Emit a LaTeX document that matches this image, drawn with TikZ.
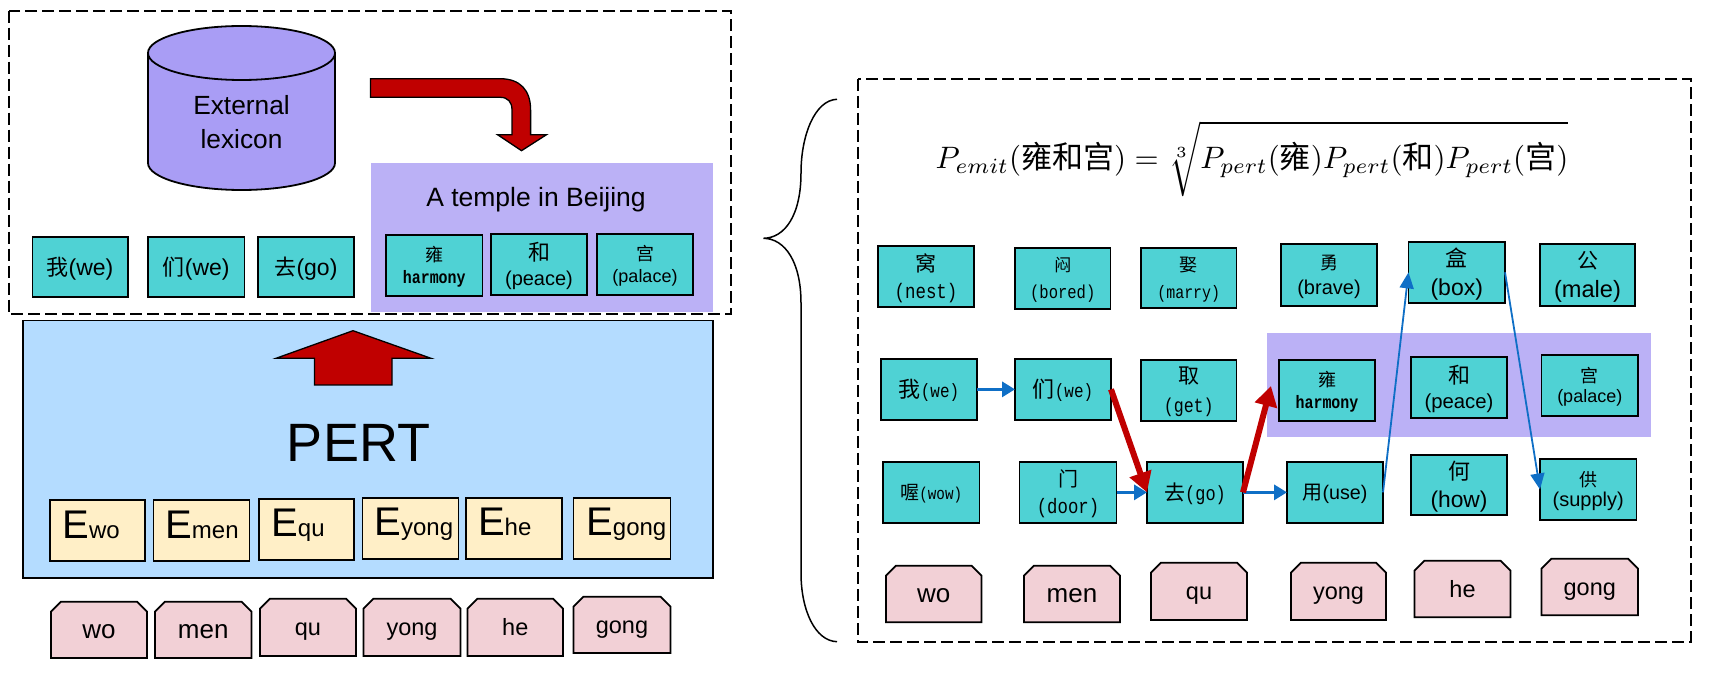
\documentclass[tikz,border=0pt]{standalone}
\usepackage{fontspec}
\setmainfont{Liberation Sans}
\newfontfamily\cjk{Noto Sans CJK SC}
\newfontfamily\mono[Scale=1.2,FakeStretch=0.83]{Liberation Mono}
\usetikzlibrary{arrows.meta,shapes.misc}
\definecolor{teal1}{HTML}{4FD2D4}
\definecolor{lilac}{HTML}{BBB1F6}
\definecolor{cyl}{HTML}{A99DF5}
\definecolor{pertblue}{HTML}{B4DCFF}
\definecolor{cream}{HTML}{FFEFC7}
\definecolor{rosy}{HTML}{F2D0D6}
\definecolor{darkred}{HTML}{C00000}
\definecolor{arrowblue}{HTML}{0F6FC6}
\newcommand\fs[1]{\fontsize{#1}{#1}\selectfont}
\newcommand\cj[2]{{\fs{#1}\cjk #2}}
\newcommand\ar[2]{{\fs{#1}#2}}
\newcommand\mn[2]{{\fs{#1}\mono #2}}
\newcommand\hm{{\fs{15}\mono\bfseries harmony}}
\tikzset{
  tbox/.style={draw=black,line width=1.8pt,fill=teal1,inner sep=0pt,outer sep=0pt,font=\fs{20}},
  ebox/.style={draw=black,line width=1.8pt,fill=cream,inner sep=0pt,outer sep=0pt,text height=29pt,text depth=14pt},
  pbox/.style={draw=black,line width=1.8pt,fill=rosy,inner sep=0pt,outer sep=0pt,chamfered rectangle,
    chamfered rectangle corners={north west,north east},chamfered rectangle xsep=4pt,chamfered rectangle ysep=6pt,
    text height=17pt,text depth=0pt},
  dashbox/.style={draw=black,line width=2pt,dash pattern=on 12pt off 5pt},
  bigarrow/.style={draw=black,line width=1.3pt,fill=darkred},
  bluearrow/.style={arrowblue,line width=3.3pt,-{Triangle[length=13pt,width=15pt]}},
  thinblue/.style={arrowblue,line width=1.8pt,-{Triangle[length=16pt,width=14pt]}},
  redarrow/.style={darkred,line width=6pt,-{Triangle[length=20pt,width=22pt]}},
}
% name x1 y1 x2 y2 text
\newcommand\tb[6]{\node[tbox,minimum width={#4-#2},minimum height={#5-#3}] (#1) at ({(#2+#4)/2},{(#3+#5)/2}) {\raisebox{-7.5pt}[0pt][0pt]{\begin{tabular}{@{}c@{}}#6\end{tabular}}};}
\newcommand\eb[7]{\node[ebox,minimum width={#4-#2},minimum height={#5-#3}] (#1) at ({(#2+#4)/2},{(#3+#5)/2}) {\kern#7pt\fs{40}E\fs{24}#6};}
\newcommand\pb[7]{\node[pbox,minimum width={#4-#2},minimum height={#5-#3}] (#1) at ({(#2+#4)/2},{(#3+#5)/2}) {\fs{#7}#6};}
\begin{document}
\begin{tikzpicture}[x=1pt,y=-1pt]
\useasboundingbox[fill=white] (0,0) rectangle (1714,684);

%% left panel
\draw[dashbox] (8.6,10.7) rectangle (731,314);
\fill[lilac] (371,163) rectangle (712.7,312);
\draw[line width=1.8pt,fill=cyl] (148,53) -- (148,163) arc[start angle=180,end angle=360,x radius=93.5,y radius=-27] -- (335,53);
\draw[line width=1.8pt,fill=cyl] (241.5,53) ellipse[x radius=93.5,y radius=27];
\node[align=center,font=\fs{26.3},inner sep=0pt] (lexicon) at (241.5,122) {External\\[7pt]lexicon};
\draw[bigarrow] (370.5,78.7) -- (500,78.7) .. controls (520,78.7) and (530.6,90) .. (530.6,110) -- (530.6,134.7) -- (546.5,134.7) -- (521.5,150.7) -- (497.5,134.7) -- (512,134.7) -- (512,110) .. controls (512,102) and (508,97.3) .. (500,97.3) -- (370.5,97.3) -- cycle;
\node[font=\fs{26.5},inner sep=0pt] (temple) at (536,200) {A temple in Beijing};

\tb{la}{32.5}{236.7}{127.6}{297}{\cj{22}{我}\ar{23}{(we)}}
\tb{lb}{148}{236.7}{244.5}{297}{\cj{22}{们}\ar{23}{(we)}}
\tb{lc}{258}{236.7}{354}{297}{\cj{22}{去}\ar{23}{(go)}}
\tb{ld}{386}{234.7}{482.5}{295.7}{\cj{18}{雍}\\[2pt]\hm}
\tb{le}{491}{234}{587}{295}{\cj{22}{和}\\[5pt]\ar{20}{(peace)}}
\tb{lf}{597}{234}{693}{295}{\cj{18}{宫}\\[2pt]\ar{18}{(palace)}}

\node[draw=black,line width=1.8pt,fill=pertblue,inner sep=0pt,outer sep=0pt,minimum width=689.7pt,minimum height=257.2pt] (pert) at (367.85,449.1) {};
\draw[bigarrow] (353,330.7) -- (431,358.3) -- (392,358.3) -- (392,385) -- (314.5,385) -- (314.5,358.3) -- (276,358.3) -- cycle;
\node[font=\fs{54},inner sep=0pt] (pertlabel) at (358.5,443) {PERT};

\eb{ea}{50}{500}{145}{561}{wo}{-13}
\eb{eb}{153.5}{500}{249.5}{561}{men}{1}
\eb{ec}{259}{498.7}{354}{560}{qu}{-17}
\eb{ed}{362.5}{497.7}{458.5}{559}{yong}{6.6}
\eb{ee}{466}{497.7}{562}{559}{he}{-18.6}
\eb{ef}{573.5}{497.7}{670.5}{559}{gong}{8.6}

\pb{pa}{51}{601.7}{147}{658}{wo}{26}
\pb{pb}{155}{601.7}{251.5}{658}{men}{26}
\pb{pc}{260}{598.7}{356}{656}{qu}{23.5}
\pb{pd}{363.5}{598.7}{460.5}{656}{yong}{23.5}
\pb{pe}{467.5}{598.7}{563}{656}{he}{23.5}
\pb{pf}{573.5}{596.7}{670.5}{653}{gong}{23.5}

%% brace
\draw[line width=1.5pt] (837,99.3) .. controls (815,100) and (801,135) .. (801,173) .. controls (801,215) and (785,238) .. (763.5,238.3) .. controls (785,238.6) and (801,262) .. (801,303) -- (801,573) .. controls (801,610) and (815,641) .. (837,641.7);

%% right panel
\draw[dashbox] (858,79) rectangle (1690.6,641.7);
\fill[lilac] (1267,333.3) rectangle (1651,436.7);
\node[scale=3.1,inner sep=0pt] (formula) at (1252,159) {$P_{emit}(\mbox{\cjk 雍和宫})=\sqrt[3]{\vphantom{\Big|}P_{pert}(\mbox{\cjk 雍})P_{pert}(\mbox{\cjk 和})P_{pert}(\mbox{\cjk 宫})}$};

\tb{ra}{878}{245.7}{974}{307.3}{\cj{21}{窝}\\[6pt]\mn{17.5}{(nest)}}
\tb{rb}{1015}{247.7}{1110.5}{309.3}{\cj{17}{闷}\\[7pt]\mn{15.6}{(bored)}}
\tb{rc}{1141}{247.7}{1236.5}{308.3}{\cj{18}{娶}\\[7pt]\mn{15}{(marry)}}
\tb{rd}{1281}{244.3}{1377}{306.3}{\cj{18}{勇}\\[4pt]\ar{20}{(brave)}}
\tb{re}{1408.5}{241.7}{1505}{303}{\cj{22}{盒}\\[6pt]\ar{23}{(box)}}
\tb{rf}{1540}{244.3}{1635}{306.3}{\cj{21}{公}\\[6pt]\ar{23.6}{(male)}}

\tb{sa}{881}{358.7}{977}{420}{\cj{22}{我}\mn{16}{(we)}}
\tb{sb}{1015}{358.7}{1111}{420}{\cj{22}{们}\mn{16}{(we)}}
\tb{sc}{1141}{359.7}{1236.5}{421}{\cj{21}{取}\\[8pt]\mn{16.7}{(get)}}
\tb{sd}{1279}{359.7}{1375}{421}{\cj{18}{雍}\\[2pt]\hm}
\tb{se}{1411}{356.7}{1507}{418.3}{\cj{22}{和}\\[4pt]\ar{20.3}{(peace)}}
\tb{sf}{1541.5}{354.7}{1638}{416}{\cj{18}{宫}\\[0pt]\ar{18}{(palace)}}

\tb{ta}{883}{461.7}{979.5}{523}{\cj{19}{喔}\mn{14.3}{(wow)}}
\tb{tb}{1019.5}{461.7}{1116.5}{523}{\cj{20}{门}\\[6pt]\mn{17.4}{(door)}}
\tb{tc}{1147}{461.7}{1243}{523}{\cj{21}{去}\mn{17}{(go)}}
\tb{td}{1287}{461.7}{1383}{523}{\cj{20}{用}\ar{19.7}{(use)}}
\tb{te}{1411}{454.7}{1507}{515.3}{\cj{22}{何}\\[6pt]\ar{22.8}{(how)}}
\tb{tf}{1540}{458.7}{1636.5}{520.3}{\cj{18}{供}\\[0pt]\ar{20}{(supply)}}

\pb{ua}{886}{565.7}{981.5}{622.3}{wo}{26}
\pb{ub}{1024}{565.7}{1120}{622.3}{men}{26}
\pb{uc}{1151}{562.7}{1247}{620}{qu}{23.5}
\pb{ud}{1291}{562.7}{1386}{620}{yong}{23.5}
\pb{ue}{1414.5}{560.7}{1510.5}{617.3}{he}{23.5}
\pb{uf}{1541.5}{558.7}{1638}{615.3}{gong}{23.5}

%% connectors
\coordinate (redtip) at (1271,386);
\draw[bluearrow] (sa.east) -- (sb.west);
\draw[bluearrow] (tb.east) -- (tc.west);
\draw[bluearrow] (tc.east) -- (td.west);
\draw[thinblue] (td.east) -- (re.west);
\draw[thinblue] (re.east) -- (tf.west);
\draw[redarrow] (sb.east) -- (tc.west);
\draw[redarrow] (tc.east) -- (redtip);
\end{tikzpicture}
\end{document}
